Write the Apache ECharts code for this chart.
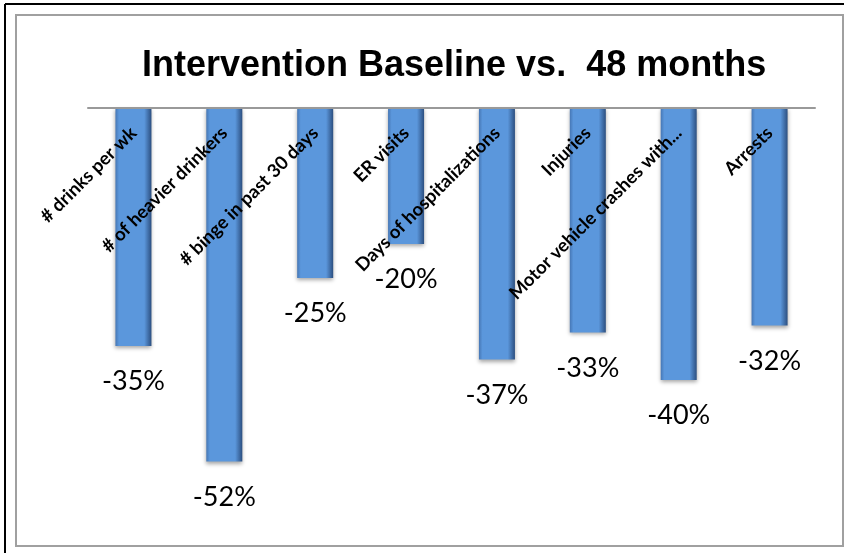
<!DOCTYPE html>
<html>
<head>
<meta charset="utf-8">
<script src="https://cdn.jsdelivr.net/npm/echarts@6/dist/echarts.min.js"></script>
<style>
	html, body { margin: 0; padding: 0; background: #fff; }
	#chart { width: 844px; height: 553px; }
</style>
</head>
<body>
<div id="chart"></div>
<script>
var titleText = 'Intervention Baseline vs.  48 months';
var categories = ['# drinks per wk', '# of heavier drinkers', '# binge in past 30 days', 'ER visits',
	'Days of hospitalizations', 'Injuries', 'Motor vehicle crashes with...', 'Arrests'];
var changes = [-35, -52, -25, -20, -37, -33, -40, -32];

var dom = document.getElementById('chart');
var myChart = echarts.init(dom);

var barColor = new echarts.graphic.LinearGradient(0, 0, 1, 0, [
	{ offset: 0, color: '#4677b5' },
	{ offset: 0.1, color: '#5b97dc' },
	{ offset: 0.8, color: '#5b97dc' },
	{ offset: 1, color: '#2c4f80' }
]);

var option = {
	animation: false,
	title: {
		text: titleText,
		left: 137,
		top: 43,
		textStyle: {
			fontFamily: 'Liberation Sans',
			fontWeight: 'bold',
			fontSize: 36,
			color: '#000'
		}
	},
	grid: {
		left: 88,
		right: 29,
		top: 108,
		bottom: 37
	},
	xAxis: {
		type: 'category',
		position: 'top',
		data: categories,
		z: 10,
		axisLine: {
			lineStyle: { color: '#999', width: 2 }
		},
		axisTick: { show: false },
		axisLabel: {
			inside: true,
			interval: 0,
			rotate: 45,
			margin: 22,
			align: 'right',
			verticalAlign: 'middle',
			fontFamily: 'Lato',
			fontWeight: 'bold',
			fontSize: 18.5,
			color: '#000'
		}
	},
	yAxis: {
		type: 'value',
		min: -60,
		max: 0,
		show: false
	},
	series: [{
		type: 'bar',
		data: changes,
		barWidth: 36,
		itemStyle: {
			color: barColor,
			shadowBlur: 4,
			shadowColor: 'rgba(0,0,0,0.35)',
			shadowOffsetY: 2
		},
		label: {
			show: true,
			position: 'bottom',
			distance: 22,
			formatter: '{c}%',
			fontFamily: 'Lato',
			fontSize: 27,
			color: '#000'
		}
	}],
	graphic: [
		{ type: 'line', shape: { x1: 5, y1: 4, x2: 844, y2: 4 }, style: { stroke: '#000', lineWidth: 2 } },
		{ type: 'line', shape: { x1: 5, y1: 4, x2: 5, y2: 553 }, style: { stroke: '#000', lineWidth: 2 } },
		{ type: 'rect', shape: { x: 16, y: 15, width: 827, height: 531 }, style: { fill: 'none', stroke: '#a0a0a0', lineWidth: 2 } }
	]
};

myChart.setOption(option, true);
</script>
</body>
</html>
